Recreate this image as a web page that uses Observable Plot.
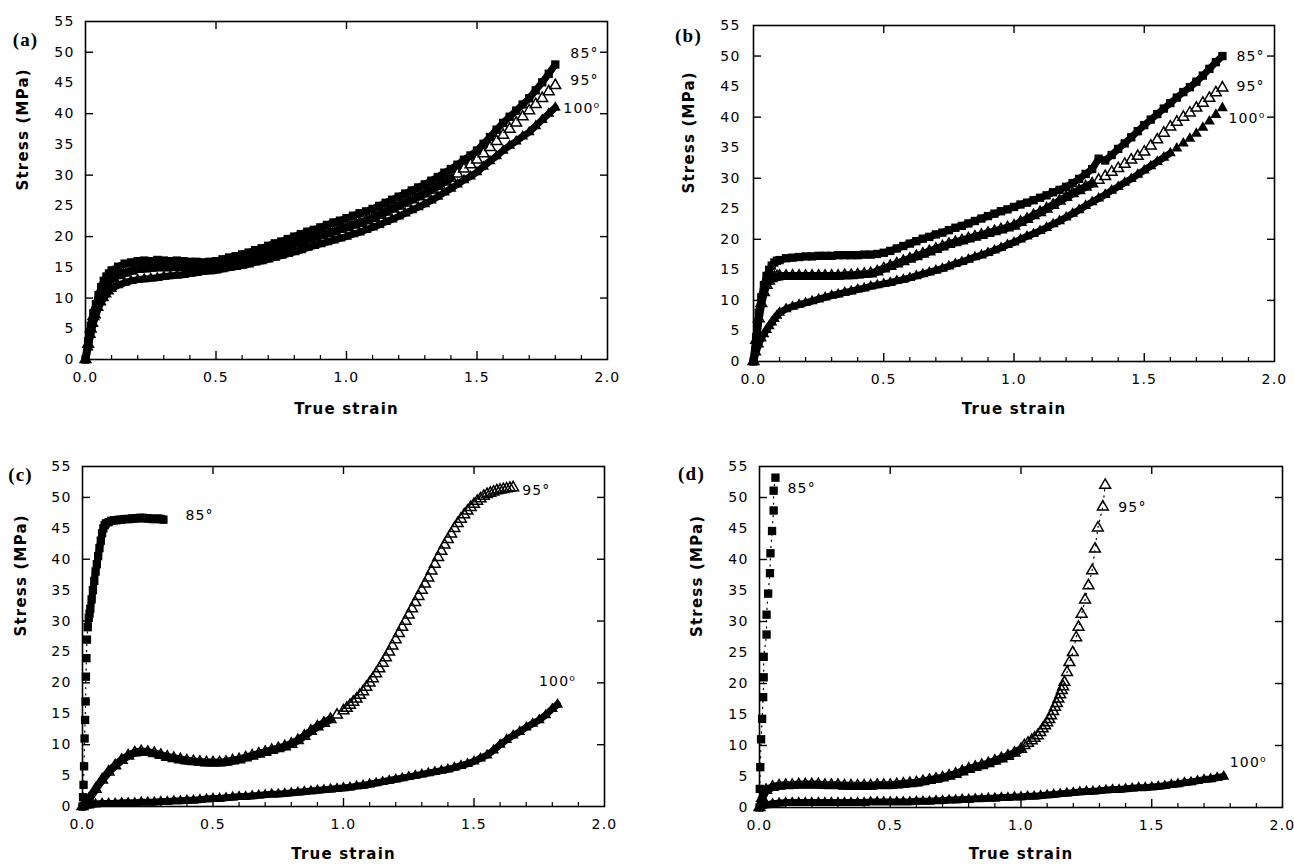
<!DOCTYPE html>
<html><head><meta charset="utf-8">
<script src="https://cdn.jsdelivr.net/npm/d3@7"></script>
<script src="https://cdn.jsdelivr.net/npm/@observablehq/plot@0.6"></script>
<style>
body{margin:0;background:#fff}
#wrap{position:relative;width:1294px;height:867px;overflow:hidden;background:#fff}
.p{position:absolute}
.p svg text{letter-spacing:1.2px}
</style>
</head><body><div id="wrap"></div>
<script>
// ---------- tick values ----------
const yLabelTicks = [0, 5, 10, 15, 20, 25, 30, 35, 40, 45, 50, 55];
const yMajorTicks = [10, 20, 30, 40, 50];
const xLabelTicks = [0, 0.5, 1, 1.5, 2];
const xMajorTicks = [0.5, 1, 1.5];
const xMinorTicks = [0.1, 0.2, 0.3, 0.4, 0.6, 0.7, 0.8, 0.9, 1.1, 1.2, 1.3, 1.4, 1.6, 1.7, 1.8, 1.9];

// ---------- panels (a) and (b): shared strain grid ----------
const strainAB = [0, 0.01, 0.02, 0.03, 0.04, 0.05, 0.06, 0.07, 0.08, 0.09, 0.1,
  0.125, 0.15, 0.175, 0.2, 0.225, 0.25, 0.275, 0.3, 0.325, 0.35, 0.375, 0.4, 0.425, 0.45, 0.475,
  0.5, 0.525, 0.55, 0.575, 0.6, 0.625, 0.65, 0.675, 0.7, 0.725, 0.75, 0.775, 0.8, 0.825, 0.85, 0.875, 0.9, 0.925, 0.95, 0.975,
  1, 1.025, 1.05, 1.075, 1.1, 1.125, 1.15, 1.175, 1.2, 1.225, 1.25, 1.275, 1.3, 1.325, 1.35, 1.375, 1.4, 1.425, 1.45, 1.475,
  1.5, 1.525, 1.55, 1.575, 1.6, 1.625, 1.65, 1.675, 1.7, 1.725, 1.75, 1.775, 1.8];

const a85 = [0, 3, 5.5, 7.5, 9, 10.5, 11.8, 12.8, 13.5, 14, 14.5,
  15.1, 15.6, 15.8, 16, 16.1, 16, 16.2, 16.1, 16, 16.1, 16, 15.9, 15.9, 15.8, 15.9,
  16.0, 16.3, 16.6, 16.8, 17.1, 17.4, 17.8, 18.1, 18.5, 18.9, 19.2, 19.6, 20.0, 20.4, 20.8, 21.1, 21.5, 21.9, 22.3, 22.6,
  23.0, 23.4, 23.8, 24.1, 24.5, 25.0, 25.5, 26.0, 26.5, 27.0, 27.5, 28.0, 28.5, 29.1, 29.7, 30.4, 31.0, 31.7, 32.5, 33.2,
  34.0, 35.1, 36.2, 37.4, 38.5, 39.5, 40.5, 41.5, 42.5, 43.8, 45.1, 46.5, 48.0];
const a95 = [0, 2.5, 5, 7, 8.5, 9.8, 10.8, 11.6, 12.2, 12.7, 13.1,
  13.7, 14.1, 14.4, 14.7, 14.8, 14.9, 15.0, 15.0, 15.0, 15.1, 15.0, 15.0, 15.0, 15.1, 15.1,
  15.2, 15.4, 15.6, 15.8, 16.1, 16.4, 16.7, 17.0, 17.3, 17.7, 18.0, 18.4, 18.8, 19.1, 19.5, 19.8, 20.2, 20.5, 20.8, 21.2,
  21.5, 21.9, 22.2, 22.6, 23.0, 23.5, 24.0, 24.5, 25.0, 25.5, 26.0, 26.5, 27.0, 27.6, 28.2, 28.9, 29.5, 30.2, 31.0, 31.7,
  32.5, 33.5, 34.5, 35.5, 36.5, 37.5, 38.5, 39.5, 40.5, 41.5, 42.5, 43.6, 44.6];
const a100 = [0, 2, 4, 5.8, 7.2, 8.4, 9.3, 10.0, 10.6, 11.1, 11.5,
  12.1, 12.5, 12.8, 13.0, 13.1, 13.2, 13.3, 13.5, 13.6, 13.7, 13.8, 14.0, 14.1, 14.3, 14.4,
  14.5, 14.7, 14.9, 15.1, 15.3, 15.5, 15.8, 16.0, 16.3, 16.6, 16.9, 17.2, 17.5, 17.8, 18.2, 18.5, 18.8, 19.1, 19.4, 19.7,
  20.0, 20.4, 20.7, 21.1, 21.5, 21.9, 22.4, 22.8, 23.3, 23.8, 24.3, 24.8, 25.3, 25.9, 26.5, 27.2, 27.8, 28.5, 29.2, 29.8,
  30.5, 31.4, 32.3, 33.1, 34.0, 34.8, 35.5, 36.3, 37.0, 38.0, 39.0, 40.0, 41.0];

const b85 = [0, 4, 8, 10.5, 12.5, 14, 15, 15.7, 16.2, 16.5, 16.6,
  16.9, 17.0, 17.1, 17.2, 17.2, 17.3, 17.3, 17.3, 17.4, 17.4, 17.4, 17.4, 17.5, 17.5, 17.6,
  17.8, 18.1, 18.5, 18.9, 19.3, 19.7, 20.1, 20.4, 20.8, 21.1, 21.5, 21.9, 22.2, 22.6, 23.0, 23.4, 23.8, 24.2, 24.6, 24.9,
  25.3, 25.7, 26.0, 26.4, 26.8, 27.2, 27.7, 28.1, 28.6, 29.2, 29.9, 30.7, 31.5, 33.2, 32.9, 33.8, 34.8, 35.7, 36.7, 37.7,
  38.7, 39.6, 40.5, 41.4, 42.3, 43.2, 44.1, 44.9, 45.8, 46.8, 47.9, 49.0, 50.0];
const b95 = [0, 3.5, 7, 9.5, 11.3, 12.5, 13.2, 13.6, 13.8, 13.9, 14.0,
  14.0, 14.0, 14.0, 14.0, 14.0, 14.0, 14.0, 14.0, 14.0, 14.1, 14.1, 14.2, 14.3, 14.4, 14.7,
  15.2, 15.6, 16.0, 16.4, 16.8, 17.2, 17.6, 18.0, 18.4, 18.8, 19.2, 19.5, 19.8, 20.1, 20.4, 20.7, 21.0, 21.3, 21.6, 21.9,
  22.2, 22.8, 23.3, 23.9, 24.4, 25.0, 25.6, 26.3, 26.9, 27.5, 28.0, 28.6, 29.1, 29.7, 30.3, 31.0, 31.6, 32.3, 33.0, 33.6,
  34.3, 35.3, 36.3, 37.4, 38.4, 39.2, 40.0, 40.7, 41.5, 42.3, 43.1, 44.0, 44.8];
const b100 = [0, 1.5, 2.8, 3.8, 4.5, 5.2, 5.8, 6.4, 7.0, 7.5, 8.0,
  8.6, 9.0, 9.3, 9.6, 9.9, 10.2, 10.5, 10.8, 11.0, 11.3, 11.5, 11.8, 12.0, 12.3, 12.5,
  12.7, 12.9, 13.2, 13.4, 13.7, 14.0, 14.3, 14.6, 14.9, 15.2, 15.6, 16.0, 16.3, 16.7, 17.1, 17.4, 17.8, 18.2, 18.6, 19.1,
  19.5, 20.0, 20.5, 20.9, 21.4, 21.9, 22.5, 23.0, 23.6, 24.2, 24.8, 25.5, 26.1, 26.7, 27.3, 28.0, 28.6, 29.3, 29.9, 30.6,
  31.3, 32.0, 32.7, 33.4, 34.1, 34.9, 35.7, 36.5, 37.3, 38.3, 39.3, 40.4, 41.5];

// ---------- panel (c) ----------
const strainC85 = [0, 0.002, 0.004, 0.006, 0.008, 0.01, 0.012, 0.013, 0.015, 0.017, 0.02, 0.024, 0.027, 0.03, 0.035,
  0.04, 0.045, 0.05, 0.055, 0.06, 0.065, 0.07, 0.075, 0.08, 0.085, 0.09, 0.1, 0.11, 0.12, 0.13,
  0.14, 0.15, 0.16, 0.17, 0.18, 0.19, 0.2, 0.21, 0.22, 0.23, 0.24, 0.25, 0.26, 0.27, 0.28, 0.29, 0.3, 0.31];
const c85 = [0, 1.5, 3.5, 6.5, 11, 14, 17, 21, 24, 27, 29, 30.5, 31.2, 32, 33.5,
  35, 36.5, 38, 39.2, 40.5, 41.8, 43, 44.2, 45, 45.5, 45.8, 46.0, 46.2, 46.3, 46.3,
  46.4, 46.4, 46.5, 46.5, 46.5, 46.6, 46.6, 46.6, 46.7, 46.7, 46.6, 46.6, 46.6, 46.5, 46.5, 46.6, 46.5, 46.4];

const strainC95 = [0, 0.025, 0.05, 0.075, 0.1, 0.125, 0.15, 0.175, 0.2, 0.225, 0.25, 0.275, 0.3, 0.325, 0.35, 0.375, 0.4,
  0.425, 0.45, 0.475, 0.5, 0.525, 0.55, 0.575, 0.6, 0.625, 0.65, 0.675, 0.7, 0.725, 0.75, 0.775, 0.8, 0.825, 0.85, 0.875,
  0.9, 0.925, 0.95, 0.975, 1,
  1.0125, 1.025, 1.0375, 1.05, 1.0625, 1.075, 1.0875, 1.1, 1.1125, 1.125, 1.1375, 1.15, 1.1625, 1.175, 1.1875, 1.2,
  1.2125, 1.225, 1.2375, 1.25, 1.2625, 1.275, 1.2875, 1.3, 1.3125, 1.325, 1.3375, 1.35, 1.3625, 1.375, 1.3875, 1.4,
  1.4125, 1.425, 1.4375, 1.45, 1.4625, 1.475, 1.4875, 1.5, 1.5125, 1.525, 1.5375, 1.55, 1.5625, 1.575, 1.5875, 1.6,
  1.6125, 1.625, 1.6375, 1.65];
const c95 = [0, 1.2, 2.8, 4.3, 5.6, 6.6, 7.5, 8.2, 8.7, 8.9, 8.8, 8.6, 8.3, 8.0, 7.8, 7.6, 7.4,
  7.3, 7.2, 7.1, 7.1, 7.1, 7.2, 7.4, 7.6, 7.9, 8.2, 8.5, 8.8, 9.1, 9.4, 9.7, 10.1, 10.7, 11.4, 12.2,
  12.9, 13.5, 14.1, 14.8, 15.5,
  15.9, 16.4, 16.9, 17.4, 18.0, 18.6, 19.3, 20.0, 20.7, 21.5, 22.3, 23.2, 24.1, 25.0, 26.0, 27.0,
  28.0, 29.0, 30.0, 31.0, 32.0, 33.0, 34.0, 35.0, 36.0, 37.0, 38.1, 39.2, 40.3, 41.3, 42.3, 43.2,
  44.1, 45.0, 45.8, 46.5, 47.2, 47.8, 48.4, 48.9, 49.4, 49.8, 50.2, 50.5, 50.7, 50.9, 51.1, 51.2,
  51.3, 51.4, 51.5, 51.6];

const strainC100 = [0, 0.025, 0.05, 0.075, 0.1, 0.125, 0.15, 0.175, 0.2, 0.225, 0.25, 0.275, 0.3, 0.325, 0.35, 0.375,
  0.4, 0.425, 0.45, 0.475, 0.5, 0.525, 0.55, 0.575, 0.6, 0.625, 0.65, 0.675, 0.7, 0.725, 0.75, 0.775, 0.8, 0.825,
  0.85, 0.875, 0.9, 0.925, 0.95, 0.975, 1, 1.025, 1.05, 1.075, 1.1, 1.125, 1.15, 1.175, 1.2, 1.225, 1.25, 1.275,
  1.3, 1.325, 1.35, 1.375, 1.4, 1.425, 1.45, 1.475, 1.5, 1.525, 1.55, 1.575, 1.6, 1.625, 1.65, 1.675, 1.7, 1.725,
  1.75, 1.775, 1.8, 1.82];
const c100 = [0, 0.2, 0.4, 0.5, 0.5, 0.5, 0.6, 0.6, 0.6, 0.7, 0.7, 0.7, 0.8, 0.8, 0.9, 0.9,
  1.0, 1.0, 1.1, 1.2, 1.3, 1.3, 1.4, 1.5, 1.6, 1.6, 1.7, 1.8, 1.9, 2.0, 2.0, 2.1, 2.2, 2.3,
  2.4, 2.5, 2.6, 2.7, 2.8, 2.9, 3.0, 3.1, 3.3, 3.4, 3.6, 3.8, 4.0, 4.2, 4.4, 4.6, 4.8, 5.0,
  5.2, 5.4, 5.6, 5.8, 6.0, 6.3, 6.6, 6.9, 7.3, 7.8, 8.3, 9.1, 10.0, 10.8, 11.5, 12.1, 12.8, 13.4,
  14.0, 14.8, 15.8, 16.5];

// ---------- panel (d) ----------
const strainD85 = [0, 0.001, 0.003, 0.006, 0.010, 0.014, 0.016, 0.016, 0.027, 0.027, 0.033, 0.040, 0.042, 0.048, 0.054, 0.054, 0.061];
const d85 = [0, 3, 6.5, 11, 14.3, 17.8, 21, 24.3, 27.9, 31.1, 34.5, 37.8, 41.0, 44.6, 47.9, 51.1, 53.2];

const strainD95 = [0, 0.01, 0.025, 0.05, 0.075, 0.1, 0.125, 0.15, 0.175, 0.2, 0.225, 0.25, 0.275, 0.3, 0.325, 0.35,
  0.375, 0.4, 0.425, 0.45, 0.475, 0.5, 0.525, 0.55, 0.575, 0.6, 0.625, 0.65, 0.675, 0.7, 0.725, 0.75, 0.775, 0.8,
  0.825, 0.85, 0.875, 0.9, 0.925, 0.95, 0.975, 1,
  1.013, 1.027, 1.041, 1.052, 1.064, 1.074, 1.083, 1.092, 1.1, 1.108, 1.115, 1.123, 1.13, 1.137, 1.143, 1.15,
  1.156, 1.161, 1.166, 1.176, 1.185, 1.198, 1.211, 1.22, 1.232, 1.245, 1.258, 1.272, 1.283, 1.294, 1.313, 1.322];
const d95 = [0, 1.5, 2.8, 3.3, 3.5, 3.6, 3.6, 3.7, 3.7, 3.7, 3.7, 3.6, 3.6, 3.6, 3.5, 3.5,
  3.5, 3.5, 3.5, 3.6, 3.6, 3.6, 3.7, 3.8, 3.9, 4.0, 4.2, 4.4, 4.6, 4.8, 5.1, 5.4, 5.8, 6.2,
  6.5, 6.8, 7.1, 7.5, 7.9, 8.3, 8.8, 9.4,
  10.0, 10.4, 10.8, 11.2, 11.6, 12.1, 12.7, 13.2, 13.7, 14.2, 14.8, 15.5, 16.2, 16.8, 17.5, 18.2,
  18.9, 19.5, 20.2, 21.8, 23.4, 25.0, 27.4, 29.1, 31.2, 33.5, 35.8, 38.2, 41.7, 45.1, 48.5, 52.0];

const strainD100 = [0, 0.025, 0.05, 0.075, 0.1, 0.125, 0.15, 0.175, 0.2, 0.225, 0.25, 0.275, 0.3, 0.325, 0.35, 0.375,
  0.4, 0.425, 0.45, 0.475, 0.5, 0.525, 0.55, 0.575, 0.6, 0.625, 0.65, 0.675, 0.7, 0.725, 0.75, 0.775, 0.8, 0.825,
  0.85, 0.875, 0.9, 0.925, 0.95, 0.975, 1, 1.025, 1.05, 1.075, 1.1, 1.125, 1.15, 1.175, 1.2, 1.225, 1.25, 1.275,
  1.3, 1.325, 1.35, 1.375, 1.4, 1.425, 1.45, 1.475, 1.5, 1.525, 1.55, 1.575, 1.6, 1.625, 1.65, 1.675, 1.7, 1.725,
  1.75, 1.775];
const d100 = [0, 0.4, 0.6, 0.7, 0.8, 0.8, 0.8, 0.8, 0.8, 0.8, 0.8, 0.8, 0.8, 0.8, 0.8, 0.8,
  0.8, 0.9, 0.9, 0.9, 0.9, 0.9, 0.9, 0.9, 1.0, 1.0, 1.0, 1.1, 1.1, 1.2, 1.2, 1.3, 1.3, 1.4,
  1.4, 1.5, 1.5, 1.6, 1.6, 1.7, 1.7, 1.8, 1.8, 1.9, 2.0, 2.1, 2.2, 2.3, 2.4, 2.5, 2.6, 2.6,
  2.7, 2.8, 2.9, 2.9, 3.0, 3.1, 3.2, 3.2, 3.3, 3.4, 3.5, 3.7, 3.8, 4.0, 4.1, 4.3, 4.5, 4.6,
  4.8, 5.0];

// ---------- helpers ----------
const rows = (strain, stress) => strain.map((s, i) => ({strain: s, stress: stress[i]}));
const styles = {
  85: {symbol: "square", r: 4.7, fill: "black", stroke: "none"},
  95: {symbol: "triangle", r: 4, fill: "none", stroke: "black", strokeWidth: 1.5},
  100: {symbol: "triangle", r: 4.1, fill: "black", stroke: "none"}
};
const angleText = {85: "85°", 95: "95°", 100: "100⁰"};

function panel(cfg) {
  const {left, top, width, height, mt, mr, mb, ml, series, letter, letterDx, letterDy,
         yLabelDx, xLabelDy, yPad, dotted} = cfg;
  const fw = width - ml - mr, fh = height - mt - mb;
  const marks = [
    Plot.axisY({ticks: yLabelTicks, tickSize: 0, tickPadding: yPad, tickFormat: d => String(d), label: null, fontSize: 14}),
    Plot.axisX({ticks: xLabelTicks, tickSize: 0, tickPadding: 13, tickFormat: d => d.toFixed(1), label: null, fontSize: 14}),
    // inward ticks
    Plot.tickY(yMajorTicks, {y: d => d, insetRight: fw - 8, stroke: "black", strokeWidth: 1.4}),
    Plot.tickY(yMajorTicks, {y: d => d, insetLeft: fw - 7, stroke: "black", strokeWidth: 1.4}),
    Plot.tickX(xMajorTicks, {x: d => d, insetTop: fh - 8, stroke: "black", strokeWidth: 1.4}),
    Plot.tickX(xMinorTicks, {x: d => d, insetTop: fh - 4, stroke: "black", strokeWidth: 1.2}),
    Plot.tickX(xMajorTicks, {x: d => d, insetBottom: fh - 8, stroke: "black", strokeWidth: 1.4}),
    Plot.frame({stroke: "black", strokeWidth: 1.6}),
    Plot.text(["True strain"], {text: d => d, frameAnchor: "bottom", dy: xLabelDy, fontWeight: "bold", fontSize: 15}),
    Plot.text(["Stress (MPa)"], {text: d => d, frameAnchor: "left", rotate: -90, dx: yLabelDx, fontWeight: "bold", fontSize: 15}),
    Plot.text([letter], {text: d => d, frameAnchor: "top-left", dx: letterDx, dy: letterDy, fontWeight: "bold",
      fontFamily: "Liberation Serif", fontSize: 19, textAnchor: "middle"})
  ];
  for (const s of series) {
    const data = rows(s.strain, s.stress);
    if (dotted && dotted.includes(s.angle)) {
      marks.push(Plot.line(data, {x: "strain", y: "stress", stroke: "black", strokeWidth: 1.2, strokeDasharray: "1.2,5"}));
    }
    if (s.band != null) {
      const from = s.bandFrom || 0;
      marks.push(Plot.line(data, {x: "strain", y: "stress", filter: d => d.strain >= from && d.strain <= s.band,
        stroke: "black", strokeWidth: s.bandW || (s.angle === 95 ? 8 : 7), strokeLinejoin: "round", strokeLinecap: "round"}));
    }
  }
  for (const s of series) {
    const data = rows(s.strain, s.stress);
    marks.push(Plot.dot(data, {x: "strain", y: "stress", ...styles[s.angle]}));
  }
  for (const s of series) {
    const data = rows(s.strain, s.stress);
    const last = data[data.length - 1];
    marks.push(Plot.text([last], {x: "strain", y: "stress", text: () => angleText[s.angle],
      dx: s.ldx, dy: s.ldy, textAnchor: s.anchor || "start", fontSize: 14}));
  }
  const svg = Plot.plot({
    width, height, marginTop: mt, marginRight: mr, marginBottom: mb, marginLeft: ml,
    x: {domain: [0, 2]},
    y: {domain: [0, 55]},
    style: {fontFamily: "'DejaVu Sans', sans-serif", fontSize: "14px", background: "white", color: "black", overflow: "visible"},
    marks
  });
  const div = document.createElement("div");
  div.className = "p";
  div.style.left = left + "px";
  div.style.top = top + "px";
  div.appendChild(svg);
  document.getElementById("wrap").appendChild(div);
}

panel({left: 0, top: 0, width: 640, height: 432, mt: 21, mr: 33, mb: 73, ml: 85, yPad: 11,
  letter: "(a)", letterDx: -60, letterDy: 11, yLabelDx: -62, xLabelDy: 54,
  series: [
    {angle: 85, strain: strainAB, stress: a85, ldx: 15, ldy: -11, band: 1.8},
    {angle: 100, strain: strainAB, stress: a100, ldx: 8, ldy: 1, band: 1.8},
    {angle: 95, strain: strainAB, stress: a95, ldx: 15, ldy: -5, band: 1.4}
  ]});

panel({left: 640, top: 0, width: 654, height: 432, mt: 25, mr: 20, mb: 71, ml: 113, yPad: 13,
  letter: "(b)", letterDx: -65, letterDy: 3, yLabelDx: -64, xLabelDy: 52,
  series: [
    {angle: 85, strain: strainAB, stress: b85, ldx: 14, ldy: 0, band: 1.8},
    {angle: 100, strain: strainAB, stress: b100, ldx: 6, ldy: 11, band: 1.6},
    {angle: 95, strain: strainAB, stress: b95, ldx: 14, ldy: -1, band: 1.3}
  ]});

panel({left: 0, top: 432, width: 640, height: 435, mt: 34, mr: 36, mb: 61, ml: 82, yPad: 11,
  letter: "(c)", letterDx: -62, letterDy: 1, yLabelDx: -61, xLabelDy: 52, dotted: [85],
  series: [
    {angle: 85, strain: strainC85, stress: c85, ldx: 22, ldy: -4, band: 0.31, bandFrom: 0.02},
    {angle: 100, strain: strainC100, stress: c100, ldx: 0, ldy: -23, anchor: "middle", band: 1.82},
    {angle: 95, strain: strainC95, stress: c95, ldx: 9, ldy: 3, band: 0.95}
  ]});

panel({left: 640, top: 432, width: 654, height: 435, mt: 34, mr: 12, mb: 60, ml: 119, yPad: 11,
  letter: "(d)", letterDx: -68, letterDy: 0, yLabelDx: -62, xLabelDy: 51, dotted: [85, 95],
  series: [
    {angle: 85, strain: strainD85, stress: d85, ldx: 12, ldy: 11},
    {angle: 100, strain: strainD100, stress: d100, ldx: 6, ldy: -14, band: 1.775},
    {angle: 95, strain: strainD95, stress: d95, ldx: 13, ldy: 22, band: 1.0}
  ]});
</script>
</body></html>
